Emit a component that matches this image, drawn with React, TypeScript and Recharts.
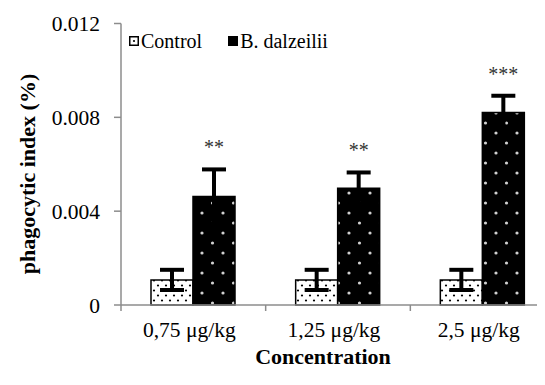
import React from 'react';
import { BarChart, Bar, XAxis, YAxis, ErrorBar, LabelList } from 'recharts';

const categories = ['0,75 μg/kg', '1,25 μg/kg', '2,5 μg/kg'];
const controlValues = [0.00107, 0.00107, 0.00107];
const controlErrors = [0.00043, 0.00043, 0.00043];
const dalzeiliiValues = [0.00462, 0.00498, 0.00821];
const dalzeiliiErrors = [0.00116, 0.00067, 0.00071];
const significance = ['**', '**', '***'];
const yTicks = [0, 0.004, 0.008, 0.012];

const data = categories.map((c, i) => ({
  name: c,
  control: controlValues[i],
  controlErr: controlErrors[i],
  dalzeilii: dalzeiliiValues[i],
  dalzeiliiErr: dalzeiliiErrors[i],
  sig: significance[i],
}));

const W = 560;
const H = 377;
const M_TOP = 15.5;
const M_RIGHT = 13;
const Y_W = 113;
const X_H = 80;
const PLOT_BOTTOM = H - X_H;
const PLOT_H = PLOT_BOTTOM - M_TOP;
const PLOT_W = W - M_RIGHT - Y_W;
const HALF_BAND = PLOT_W / categories.length / 2;
const Y_MAX = 0.012;
const FONT = 'Liberation Serif';
const AXIS = '#8c8c8c';

const XTick = (props: any) => {
  const { x, payload, index } = props;
  return (
    <g>
      <text x={x - 4} y={PLOT_BOTTOM + 32} textAnchor="middle" fontFamily={FONT} fontSize={21.5} fill="#000">
        {payload.value}
      </text>
      {index === 0 && (
        <line x1={x - HALF_BAND} x2={x - HALF_BAND} y1={PLOT_BOTTOM} y2={PLOT_BOTTOM + 6} stroke={AXIS} strokeWidth={1.5} />
      )}
      <line x1={x + HALF_BAND} x2={x + HALF_BAND} y1={PLOT_BOTTOM} y2={PLOT_BOTTOM + 6} stroke={AXIS} strokeWidth={1.5} />
    </g>
  );
};

const YTick = (props: any) => {
  const { y, payload } = props;
  const v = payload.value;
  return (
    <text x={Y_W - 21} y={y} dy="0.35em" textAnchor="end" fontFamily={FONT} fontSize={21.5} fill="#000">
      {v === 0 ? '0' : v.toFixed(3)}
    </text>
  );
};

const SigLabel = (props: any) => {
  const { x, y, width, index } = props;
  const errPx = (dalzeiliiErrors[index] * PLOT_H) / Y_MAX;
  return (
    <text x={x + width / 2} y={y - errPx - 15} textAnchor="middle" fontFamily={FONT} fontSize={20} fill="#333">
      {significance[index]}
    </text>
  );
};

const LegendBox = () => (
  <div
    style={{
      position: 'absolute',
      top: 21,
      left: 121,
      display: 'flex',
      alignItems: 'center',
      fontFamily: FONT,
      fontSize: 20,
      lineHeight: '24px',
      color: '#000',
      whiteSpace: 'nowrap',
    }}
  >
    <svg width={10} height={10} style={{ marginRight: 2 }}>
      <rect x={0.75} y={0.75} width={8.5} height={8.5} fill="#fff" stroke="#000" strokeWidth={1.5} />
      <circle cx={5} cy={5} r={1.1} fill="#000" />
    </svg>
    <span style={{ marginRight: 26 }}>Control</span>
    <svg width={10} height={10} style={{ marginRight: 2 }}>
      <rect x={0} y={0} width={10} height={10} fill="#000" />
    </svg>
    <span>B. dalzeilii</span>
  </div>
);

export default function App() {
  return (
    <div style={{ position: 'relative', width: W, height: H }}>
      <BarChart
        width={W}
        height={H}
        data={data}
        margin={{ top: M_TOP, right: M_RIGHT, left: 0, bottom: 0 }}
        barGap={0}
        barCategoryGap={29}
      >
        <defs>
          <pattern id="dotsLight" patternUnits="userSpaceOnUse" width={8} height={10}>
            <rect width={8} height={10} fill="#fff" />
            <circle cx={2} cy={2.5} r={1.1} fill="#000" />
            <circle cx={6} cy={7.5} r={1.1} fill="#000" />
          </pattern>
          <pattern id="dotsDark" patternUnits="userSpaceOnUse" width={21} height={20}>
            <rect width={21} height={20} fill="#000" />
            <circle cx={5} cy={5} r={1.6} fill="#d0d0d0" />
            <circle cx={15.5} cy={15} r={1.6} fill="#d0d0d0" />
          </pattern>
        </defs>
        <XAxis
          dataKey="name"
          height={X_H}
          axisLine={{ stroke: AXIS, strokeWidth: 1.5 }}
          tickLine={false}
          tick={<XTick />}
          interval={0}
          label={() => (
            <text x={315} y={356} textAnchor="middle" fontFamily={FONT} fontSize={22} fontWeight="bold" fill="#000">
              Concentration
            </text>
          )}
        />
        <YAxis
          width={Y_W}
          domain={[0, Y_MAX]}
          ticks={yTicks}
          interval={0}
          axisLine={{ stroke: AXIS, strokeWidth: 1.5 }}
          tickLine={{ stroke: AXIS, strokeWidth: 1.5 }}
          tickSize={7}
          tick={<YTick />}
          label={() => (
            <text
              transform={`translate(27, 166) rotate(-90)`}
              textAnchor="middle"
              fontFamily={FONT}
              fontSize={22}
              fontWeight="bold"
              fill="#000"
            >
              phagocytic index (%)
            </text>
          )}
        />
        <Bar dataKey="control" barSize={42} fill="url(#dotsLight)" stroke="#000" strokeWidth={1.5} isAnimationActive={false}>
          <ErrorBar dataKey="controlErr" width={12} strokeWidth={4} stroke="#000" direction="y" />
        </Bar>
        <Bar dataKey="dalzeilii" barSize={42} fill="url(#dotsDark)" stroke="#000" strokeWidth={1.5} isAnimationActive={false}>
          <ErrorBar dataKey="dalzeiliiErr" width={12} strokeWidth={4} stroke="#000" direction="y" />
          <LabelList dataKey="sig" content={<SigLabel />} />
        </Bar>
      </BarChart>
      <LegendBox />
    </div>
  );
}
